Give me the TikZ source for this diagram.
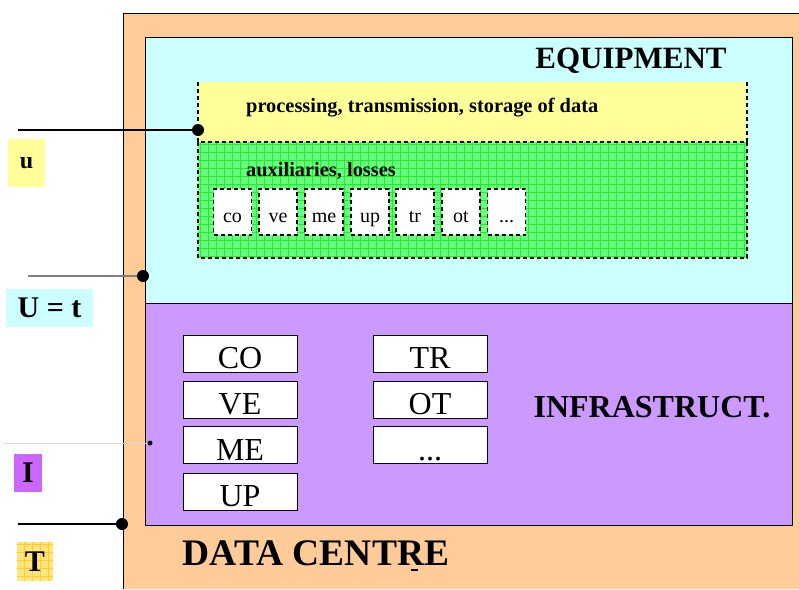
\documentclass[tikz,border=0pt]{standalone}
\usepackage{fontspec}
\setmainfont{Liberation Serif}
\usetikzlibrary{calc}

\definecolor{dcorange}{RGB}{255,204,153}
\definecolor{dccyan}{RGB}{204,255,255}
\definecolor{dcpurple}{RGB}{204,153,255}
\definecolor{dcviolet}{RGB}{204,102,255}
\definecolor{dcyellow}{RGB}{255,255,153}
\definecolor{dcgreen}{RGB}{102,255,128}
\definecolor{dcgrid}{RGB}{40,235,40}
\definecolor{dcgold}{RGB}{255,228,128}
\definecolor{dcgoldgrid}{RGB}{255,204,40}

\begin{document}
\begin{tikzpicture}[x=1pt,y=-1pt,
  dashline/.style={line width=1.3pt,dash pattern=on 4pt off 3pt},
  bigbox/.style={draw,fill=white,minimum width=114pt,minimum height=37pt,inner sep=0pt,
    text height=30pt,text depth=0pt,font=\fontsize{32}{32}\selectfont},
  smallbox/.style={draw,dashline,fill=white,minimum width=38pt,minimum height=46pt,
    inner sep=0pt,text height=20pt,text depth=0pt,font=\fontsize{20}{20}\selectfont},
  tag/.style={inner sep=0pt,font=\bfseries\fontsize{30}{30}\selectfont},
  title/.style={inner sep=0pt,font=\bfseries\fontsize{31}{31}\selectfont},
  layer/.style={inner sep=0pt,anchor=west,font=\bfseries\fontsize{20.4}{20.4}\selectfont},
  dot/.style={circle,fill=black,inner sep=0pt,minimum size=12pt}]
  \useasboundingbox (0,0) rectangle (799,589);
  % outer blocks
  \fill[dcorange](123,13) rectangle (799,589);
  \draw(123,589)--(123,13)--(799,13);
  \draw[fill=dccyan](145,37) rectangle (792,303);
  \draw[fill=dcpurple](145,303) rectangle (792,525);
  % equipment layers
  \fill[dcyellow](198,82) rectangle (747,142);
  \draw[dashline](198,142)--(198,82) (747,82)--(747,142);
  \fill[dcgreen](198,142) rectangle (747,258);
  \begin{scope}
    \clip(198,142) rectangle (747,258);
    \draw[dcgrid,line width=0.5pt,step=8pt](198,142) grid (747,258);
  \end{scope}
  \draw[dashline](198,142) rectangle (747,258);
  \node[layer](proc) at (246,108){processing, transmission, storage of data};
  \node[layer](aux) at (246,171){auxiliaries, losses};
  \node[smallbox](co) at (232.5,212){co};
  \node[smallbox](ve) at (278,212){ve};
  \node[smallbox](me) at (324,212){me};
  \node[smallbox](up) at (370,212){up};
  \node[smallbox](tr) at (415,212){tr};
  \node[smallbox](ot) at (461,212){ot};
  \node[smallbox](etc) at (506.5,212){...};
  \node[title](equip) at (631,61){EQUIPMENT};
  % infrastructure
  \node[bigbox](CO) at (240,353.5){CO};
  \node[bigbox](VE) at (240,399.5){VE};
  \node[bigbox](ME) at (240,445){ME};
  \node[bigbox](UP) at (240,491.5){UP};
  \node[bigbox](TR) at (430,353.5){TR};
  \node[bigbox](OT) at (430,399.5){OT};
  \node[bigbox](ETC) at (430,445){...};
  \node[title,font=\bfseries\fontsize{32}{32}\selectfont](infra) at (652,407){INFRASTRUCT.};
  \node[title,font=\bfseries\fontsize{37.5}{37.5}\selectfont](dc) at (316,553){DATA CENTRE};
  \draw[line width=2.5pt](411,570)--(418,570);
  % level tags
  \node[tag,fill=dcyellow,minimum width=37pt,minimum height=48pt,
    font=\bfseries\fontsize{24}{24}\selectfont](u) at (26.5,163){u};
  \node[tag,fill=dccyan,minimum width=87pt,minimum height=38pt](Ut) at (49.5,308){U = t};
  \node[tag,fill=dcviolet,minimum width=28pt,minimum height=38pt](I) at (28,473){I};
  \fill[dcgold](17,542) rectangle (53,581);
  \begin{scope}
    \clip(17,542) rectangle (53,581);
    \draw[dcgoldgrid,line width=0.5pt,step=8pt](17,542) grid (53,581);
  \end{scope}
  \node[tag](T) at (35,561.5){T};
  % connectors
  \coordinate(uend) at (18,130);
  \node[dot](udot) at (198,130){};
  \draw[line width=1.5pt](uend)--(udot);
  \coordinate(Utend) at (28,276);
  \node[dot](Utdot) at (143,276){};
  \draw[line width=1.5pt,gray](Utend)--(Utdot);
  \coordinate(Iend) at (3,443);
  \node[dot,minimum size=5pt](Idot) at (150,443){};
  \draw[black!15](Iend)--(Idot);
  \coordinate(Tend) at (18,524);
  \node[dot](Tdot) at (122,524){};
  \draw[line width=1.5pt](Tend)--(Tdot);
\end{tikzpicture}
\end{document}
